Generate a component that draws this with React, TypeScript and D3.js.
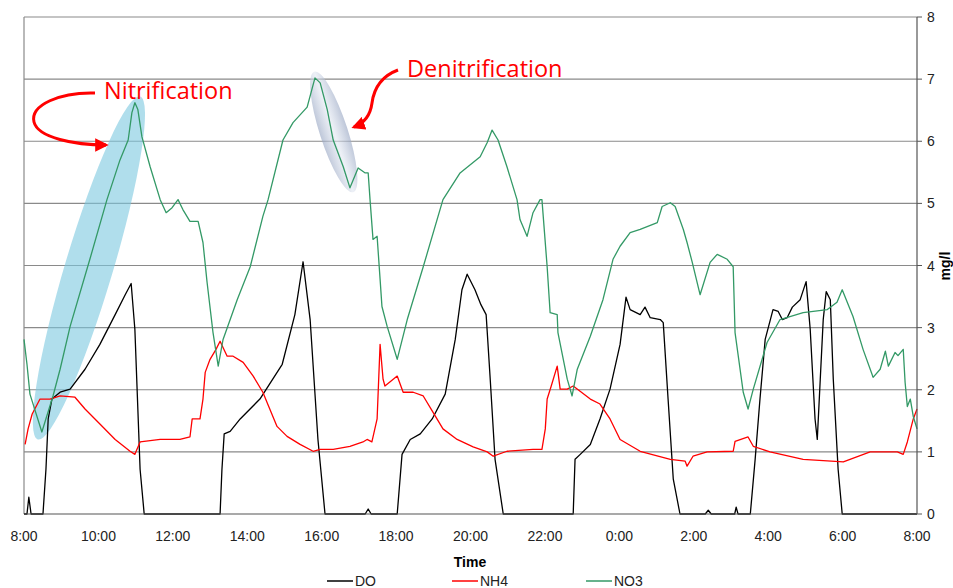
import React from "react";
import * as d3 from "d3";

// hours after 8:00, mg/l
const doData: [number, number][] = [
  [0, 0], [0.08, 0], [0.13, 0.27], [0.19, 0], [0.51, 0], [0.59, 0.72], [0.65, 1.53], [0.75, 1.85],
  [0.97, 1.96], [1.24, 2.01], [1.64, 2.33], [2.04, 2.73], [2.45, 3.21], [2.72, 3.53], [2.88, 3.71],
  [2.98, 2.97], [3.12, 0.72], [3.23, 0], [5.27, 0], [5.32, 0.72], [5.38, 1.29], [5.54, 1.33],
  [5.81, 1.53], [6.34, 1.85], [6.94, 2.41], [7.28, 3.21], [7.5, 4.06], [7.69, 3.13], [7.9, 1.2],
  [8.09, 0], [9.17, 0], [9.25, 0.08], [9.33, 0], [10.03, 0], [10.16, 0.96], [10.38, 1.2],
  [10.65, 1.29], [10.97, 1.53], [11.32, 1.93], [11.59, 2.81], [11.77, 3.61], [11.91, 3.86],
  [12.12, 3.61], [12.28, 3.37], [12.42, 3.21], [12.53, 2.17], [12.66, 0.88], [12.88, 0],
  [14.76, 0], [14.81, 0.88], [14.95, 0.96], [15.22, 1.12], [15.48, 1.53], [15.75, 2.01],
  [16.02, 2.73], [16.18, 3.49], [16.29, 3.29], [16.56, 3.21], [16.69, 3.33], [16.83, 3.16],
  [17.1, 3.13], [17.18, 3.08], [17.31, 1.85], [17.45, 0.56], [17.63, 0], [18.31, 0],
  [18.39, 0.06], [18.47, 0], [19.1, 0], [19.14, 0.11], [19.19, 0], [19.52, 0], [19.65, 0.88],
  [19.78, 1.85], [19.92, 2.81], [20.13, 3.29], [20.27, 3.26], [20.38, 3.13], [20.51, 3.16],
  [20.65, 3.33], [20.86, 3.45], [21.02, 3.74], [21.13, 2.97], [21.26, 1.53], [21.32, 1.2],
  [21.4, 2.17], [21.48, 3.13], [21.56, 3.58], [21.67, 3.45], [21.75, 2.17], [21.88, 0.72],
  [21.99, 0], [24, 0],
];

const nh4Data: [number, number][] = [
  [0.03, 1.12], [0.11, 1.37], [0.22, 1.61], [0.43, 1.85], [0.7, 1.85], [0.97, 1.9], [1.37, 1.88],
  [1.64, 1.69], [2.04, 1.45], [2.45, 1.2], [2.85, 1.01], [2.98, 0.96], [3.12, 1.16], [3.66, 1.2],
  [4.19, 1.2], [4.46, 1.24], [4.52, 1.53], [4.73, 1.53], [4.81, 1.85], [4.87, 2.28], [5.0, 2.49],
  [5.16, 2.65], [5.27, 2.78], [5.46, 2.54], [5.62, 2.54], [5.89, 2.44], [6.16, 2.22], [6.42, 1.96],
  [6.53, 1.8], [6.8, 1.41], [7.07, 1.25], [7.42, 1.12], [7.77, 1.01], [7.96, 1.04], [8.31, 1.04],
  [8.76, 1.09], [9.11, 1.16], [9.22, 1.2], [9.35, 1.16], [9.49, 1.53], [9.57, 2.73], [9.65, 2.17],
  [9.7, 2.06], [10.03, 2.22], [10.19, 1.96], [10.46, 1.96], [10.73, 1.9], [10.99, 1.64],
  [11.26, 1.37], [11.64, 1.2], [12.07, 1.08], [12.45, 1.0], [12.61, 0.93], [12.98, 1.01],
  [13.68, 1.04], [13.92, 1.04], [14.01, 1.37], [14.06, 1.85], [14.17, 2.06], [14.33, 2.38],
  [14.41, 2.01], [14.6, 2.01], [14.76, 2.06], [15.22, 1.85], [15.48, 1.77], [15.75, 1.53],
  [16.02, 1.2], [16.56, 1.01], [17.37, 0.88], [17.77, 0.85], [17.82, 0.77], [17.98, 0.93],
  [18.36, 1.0], [19.06, 1.01], [19.11, 1.17], [19.46, 1.24], [19.6, 1.09], [20.05, 1.0],
  [20.94, 0.88], [22.02, 0.84], [22.74, 1.0], [23.47, 1.0], [23.63, 0.96], [23.74, 1.16],
  [23.9, 1.53], [24, 1.69],
];

const no3Data: [number, number][] = [
  [0, 2.81], [0.08, 2.41], [0.16, 1.93], [0.48, 1.32], [0.78, 1.9], [0.97, 2.33], [1.24, 3.02],
  [1.77, 4.1], [2.23, 5.06], [2.58, 5.7], [2.8, 6.02], [2.9, 6.46], [2.98, 6.62], [3.06, 6.51],
  [3.17, 6.07], [3.39, 5.59], [3.66, 5.06], [3.82, 4.85], [3.98, 4.93], [4.14, 5.06], [4.27, 4.9],
  [4.46, 4.71], [4.68, 4.71], [4.81, 4.37], [4.92, 3.73], [5.08, 2.92], [5.22, 2.38], [5.35, 2.81],
  [5.73, 3.45], [6.08, 3.98], [6.42, 4.79], [6.56, 5.06], [6.96, 6.02], [7.23, 6.3], [7.61, 6.55],
  [7.82, 7.02], [7.96, 6.94], [8.15, 6.51], [8.31, 6.02], [8.58, 5.59], [8.76, 5.25], [8.98, 5.57],
  [9.17, 5.49], [9.25, 5.49], [9.3, 5.06], [9.38, 4.42], [9.49, 4.47], [9.57, 3.78], [9.62, 3.34],
  [9.76, 3.02], [10.03, 2.49], [10.3, 3.13], [10.73, 3.98], [11.26, 5.06], [11.72, 5.49],
  [12.26, 5.75], [12.45, 5.98], [12.58, 6.18], [12.74, 6.02], [12.98, 5.59], [13.25, 5.06],
  [13.33, 4.74], [13.52, 4.47], [13.68, 4.85], [13.87, 5.06], [13.92, 5.06], [14.06, 3.98],
  [14.14, 3.24], [14.33, 3.21], [14.35, 2.92], [14.6, 2.17], [14.73, 1.9], [14.87, 2.33],
  [15.22, 2.86], [15.56, 3.45], [15.83, 4.1], [16.02, 4.31], [16.29, 4.53], [16.56, 4.58],
  [17.02, 4.69], [17.15, 4.95], [17.37, 5.01], [17.5, 4.95], [17.72, 4.58], [17.82, 4.37],
  [17.96, 4.05], [18.17, 3.53], [18.44, 4.05], [18.63, 4.18], [18.9, 4.1], [19.06, 3.98],
  [19.11, 2.92], [19.33, 1.96], [19.46, 1.69], [19.6, 2.01], [19.97, 2.76], [20.32, 3.13],
  [20.94, 3.24], [21.59, 3.29], [21.85, 3.41], [21.99, 3.61], [22.28, 3.18], [22.55, 2.65],
  [22.82, 2.2], [23.01, 2.33], [23.15, 2.62], [23.23, 2.38], [23.41, 2.6], [23.49, 2.55],
  [23.63, 2.65], [23.68, 2.12], [23.74, 1.73], [23.82, 1.85], [23.9, 1.57], [24, 1.37],
];

const xTicks = [0, 2, 4, 6, 8, 10, 12, 14, 16, 18, 20, 22, 24];
const xTickLabels = ["8:00", "10:00", "12:00", "14:00", "16:00", "18:00", "20:00", "22:00", "0:00", "2:00", "4:00", "6:00", "8:00"];
const yTicks = [0, 1, 2, 3, 4, 5, 6, 7, 8];

const seriesNames = ["DO", "NH4", "NO3"];
const seriesColors = ["#000000", "#ff0000", "#339966"];

export default function App() {
  const W = 953, H = 588;
  const x = d3.scaleLinear().domain([0, 24]).range([24, 917]);
  const y = d3.scaleLinear().domain([0, 8]).range([514, 17]);
  const line = d3.line<[number, number]>().x(d => x(d[0])).y(d => y(d[1]));
  const allData = [doData, nh4Data, no3Data];

  // annotation ellipses, ends given in data space
  const ell = (a: [number, number], b: [number, number], half: number) => {
    const x1 = x(a[0]), y1 = y(a[1]), x2 = x(b[0]), y2 = y(b[1]);
    const cx = (x1 + x2) / 2, cy = (y1 + y2) / 2;
    const rx = Math.hypot(x2 - x1, y2 - y1) / 2;
    const ang = (Math.atan2(y2 - y1, x2 - x1) * 180) / Math.PI;
    return { cx, cy, rx, ry: half, ang };
  };
  const nit = ell([0.37, 1.2], [3.12, 6.72], 24);
  const den = ell([7.8, 7.12], [8.85, 5.18], 14);

  const font = "'Liberation Sans', Arial, sans-serif";

  return (
    <svg width={W} height={H} style={{ position: "absolute", left: 0, top: 0, background: "#fff" }}>
      <defs>
        <marker id="ah" viewBox="0 0 10 10" refX="8" refY="5" markerWidth="4.5" markerHeight="4.5" orient="auto">
          <path d="M0,0 L10,5 L0,10 z" fill="#ff0000" />
        </marker>
        <linearGradient id="dg" x1="0" y1="0" x2="0" y2="1">
          <stop offset="0" stopColor="#9aa8c4" stopOpacity={0.65} />
          <stop offset="0.5" stopColor="#dfe5f0" stopOpacity={0.55} />
          <stop offset="1" stopColor="#9aa8c4" stopOpacity={0.65} />
        </linearGradient>
      </defs>

      {/* grid */}
      {yTicks.slice(1).map(t => (
        <line key={t} x1={x(0)} x2={x(24)} y1={y(t)} y2={y(t)} stroke="#8a8a8a" strokeWidth={1.2} />
      ))}
      <line x1={x(0)} x2={x(0)} y1={y(8)} y2={y(0)} stroke="#8a8a8a" strokeWidth={1.2} />

      {/* annotation ellipses */}
      <ellipse cx={nit.cx} cy={nit.cy} rx={nit.rx} ry={nit.ry} transform={`rotate(${nit.ang},${nit.cx},${nit.cy})`} fill="#7cc8e0" fillOpacity={0.6} />
      <ellipse cx={den.cx} cy={den.cy} rx={den.rx} ry={den.ry} transform={`rotate(${den.ang},${den.cx},${den.cy})`} fill="url(#dg)" />

      {/* series */}
      {allData.map((d, i) => (
        <path key={i} d={line(d) || ""} fill="none" stroke={seriesColors[i]} strokeWidth={1.3} strokeLinejoin="round" />
      ))}

      {/* axes */}
      <line x1={x(0)} x2={x(24)} y1={y(0)} y2={y(0)} stroke="#555" strokeWidth={1.2} />
      <line x1={x(24)} x2={x(24)} y1={y(8)} y2={y(0)} stroke="#555" strokeWidth={1.2} />
      {yTicks.map(t => (
        <g key={t}>
          <line x1={x(24)} x2={x(24) + 5} y1={y(t)} y2={y(t)} stroke="#555" />
          <text x={x(24) + 10} y={y(t) + 5} fontSize={14} fontFamily={font} fill="#222">{t}</text>
        </g>
      ))}
      {xTicks.map((t, i) => (
        <text key={t} x={x(t)} y={541} fontSize={14} fontFamily={font} textAnchor="middle" fill="#222">{xTickLabels[i]}</text>
      ))}
      <text x={470} y={567} fontSize={14} fontWeight="bold" fontFamily={font} textAnchor="middle">Time</text>
      <text transform="translate(950,266) rotate(-90)" fontSize={14} fontWeight="bold" fontFamily={font} textAnchor="middle">mg/l</text>

      {/* legend */}
      {seriesNames.map((n, i) => {
        const lx = [327, 452, 586][i];
        return (
          <g key={n}>
            <line x1={lx} x2={lx + 26} y1={581} y2={581} stroke={seriesColors[i]} strokeWidth={1.5} />
            <text x={lx + 28} y={586} fontSize={14} fontFamily={font} fill="#222">{n}</text>
          </g>
        );
      })}

      {/* annotations */}
      <text x={104} y={99} fontSize={23.5} fontFamily="'Open Sans', sans-serif" fill="#ff0000">Nitrification</text>
      <text x={407} y={77} fontSize={23.5} fontFamily="'Open Sans', sans-serif" fill="#ff0000">Denitrification</text>
      <path d="M95,93 C60,92 30,105 34,122 C38,138 75,145 106,145" fill="none" stroke="#ff0000" strokeWidth={3} markerEnd="url(#ah)" />
      <path d="M398,70 C382,76 374,88 372,103 C370,118 362,124 354,127" fill="none" stroke="#ff0000" strokeWidth={3} markerEnd="url(#ah)" />
    </svg>
  );
}
